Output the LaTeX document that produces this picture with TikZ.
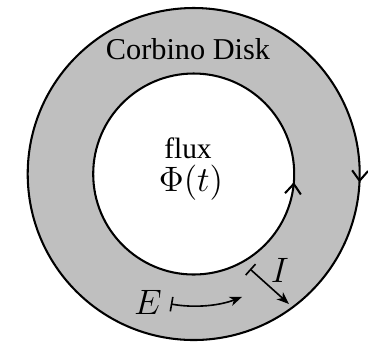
\documentclass[tikz,border=0pt]{standalone}
\usepackage{fontspec}
\setmainfont{Liberation Serif}
\usetikzlibrary{arrows.meta,decorations.markings,calc}
\definecolor{diskgray}{RGB}{191,191,191}
\tikzset{mytip/.tip={Stealth[length=4.2pt,width=3.2pt,inset=1.2pt]},
  ringtip/.tip={Straight Barb[length=3.4pt,width=5.4pt,line width=0.7pt]}}
\begin{document}
\begin{tikzpicture}[x=0.34pt,y=0.34pt,
  ring/.style={line width=0.7pt},
  conn/.style={line width=0.55pt},
  lbl/.style={inner sep=0pt}]
\useasboundingbox (0,0) rectangle (368,341);
\coordinate (C) at (193.7,167);
% disk
\fill[diskgray] (C) circle (166);
\fill[white] (C) circle (100.5);
% outer edge, clockwise arrow on the right side
\draw[ring, postaction={decorate}, decoration={markings, mark=at position 0.508 with {\arrow{ringtip}}}]
  ($(C)+(180:166)$) arc (180:-180:166);
% inner edge, counterclockwise arrow on the right side
\draw[ring, postaction={decorate}, decoration={markings, mark=at position 0.487 with {\arrow{ringtip}}}]
  ($(C)+(-180:100.5)$) arc (-180:180:100.5);
% labels
\node[lbl] (disk) at (188,292) {\fontsize{10.3}{12}\selectfont Corbino Disk};
\node[lbl] (flux) at (188,193) {\fontsize{10}{12}\selectfont flux};
\node[lbl] (phi) at (191,158) {\large $\Phi(t)$};
\node[lbl] (E) at (148,39) {\large $E$};
\node[lbl] (I) at (280,71) {\large $I$};
% E arrow along an arc
\coordinate (Es) at ($(C)+(-100:132)$);
\draw[conn, {Bar[width=5pt]}-{mytip}] (Es) arc (-100:-68.5:132);
% I arrow across the disk
\coordinate (Is) at (250,72);
\coordinate (Ie) at (289,37);
\draw[conn, {Bar[width=5pt]}-{mytip}] (Is) -- (Ie);
\end{tikzpicture}
\end{document}
